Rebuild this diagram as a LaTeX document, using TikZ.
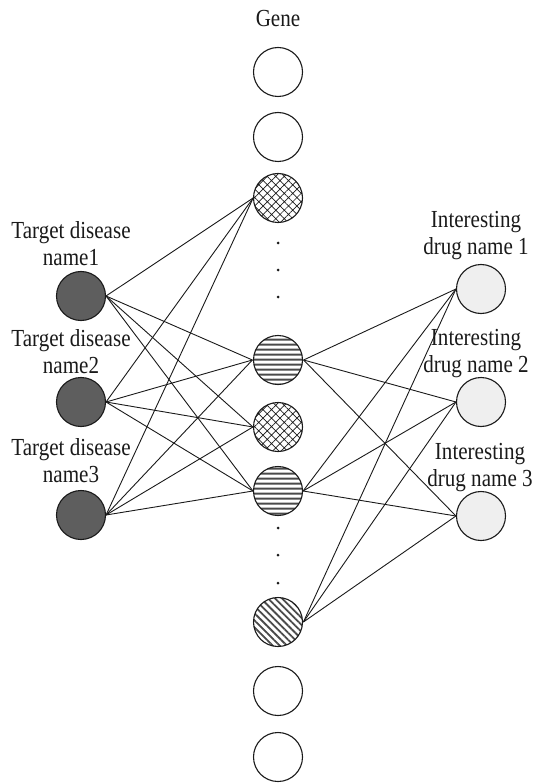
\documentclass[tikz,border=0pt]{standalone}
\usepackage{fontspec}
\setmainfont[FakeStretch=0.86]{Liberation Serif}
\usetikzlibrary{patterns.meta}
\definecolor{diseasefill}{HTML}{5E5E5E}
\definecolor{drugfill}{HTML}{EFEFEF}
\definecolor{inkc}{HTML}{1A1A1A}
\definecolor{stripec}{HTML}{4A4A4A}
\tikzset{
  nd/.style={circle, draw=inkc, line width=1.1pt, minimum size=49pt, inner sep=0pt},
  plain/.style={nd, fill=white},
  disease/.style={nd, fill=diseasefill},
  drug/.style={nd, fill=drugfill},
  crossg/.style={nd, pattern={Hatch[angle=45,distance=6pt,line width=0.7pt]}, pattern color=inkc},
  stripeg/.style={nd, pattern={Lines[angle=0,distance=5.4pt,line width=2.2pt]}, pattern color=stripec},
  diagg/.style={nd, pattern={Lines[angle=-45,distance=5pt,line width=1.8pt]}, pattern color=stripec},
  lbl/.style={align=center, inner sep=0pt, text=inkc, font=\fontsize{24.5}{27}\selectfont},
  dotm/.style={circle, fill=inkc, inner sep=0pt, minimum size=3pt},
  conn/.style={draw=inkc, line width=0.9pt}
}
\begin{document}
\begin{tikzpicture}[x=1pt, y=-1pt]
\useasboundingbox (0,0) rectangle (534,783);
% gene column
\node[lbl] (glabel) at (278,19) {Gene};
\node[plain]   (g1) at (278,72) {};
\node[plain]   (g2) at (278,137) {};
\node[crossg]  (c1) at (278,198) {};
\node[dotm] (d1) at (278,243) {};
\node[dotm] (d2) at (278,270) {};
\node[dotm] (d3) at (278,297) {};
\node[stripeg] (s1) at (278,360) {};
\node[crossg]  (c2) at (278,427) {};
\node[stripeg] (s2) at (278,491) {};
\node[dotm] (d4) at (278,528) {};
\node[dotm] (d5) at (278,555) {};
\node[dotm] (d6) at (278,583) {};
\node[diagg]   (dg) at (278,622) {};
\node[plain]   (g3) at (278,691) {};
\node[plain]   (g4) at (278,757) {};
% diseases
\node[lbl] (tl1) at (71,244) {Target disease\\name1};
\node[lbl] (tl2) at (71,352) {Target disease\\name2};
\node[lbl] (tl3) at (71,461) {Target disease\\name3};
\node[disease] (t1) at (81,296) {};
\node[disease] (t2) at (81,402) {};
\node[disease] (t3) at (81,515) {};
% drugs
\node[lbl] (rl1) at (476,236) {Interesting\\drug name 1};
\node[lbl] (rl2) at (476,354) {Interesting\\drug name 2};
\node[lbl] (rl3) at (480,468) {Interesting\\drug name 3};
\node[drug] (r1) at (481,289) {};
\node[drug] (r2) at (481,402) {};
\node[drug] (r3) at (481,516) {};
% connectors disease -> gene
\foreach \t in {t1,t2,t3}{
  \foreach \g in {c1,s1,c2,s2}{
    \draw[conn] (\t.east) -- (\g.west);
  }
}
% connectors gene -> drug
\foreach \g in {s1,s2,dg}{
  \foreach \r in {r1,r2,r3}{
    \draw[conn] (\g.east) -- (\r.west);
  }
}
\end{tikzpicture}
\end{document}
